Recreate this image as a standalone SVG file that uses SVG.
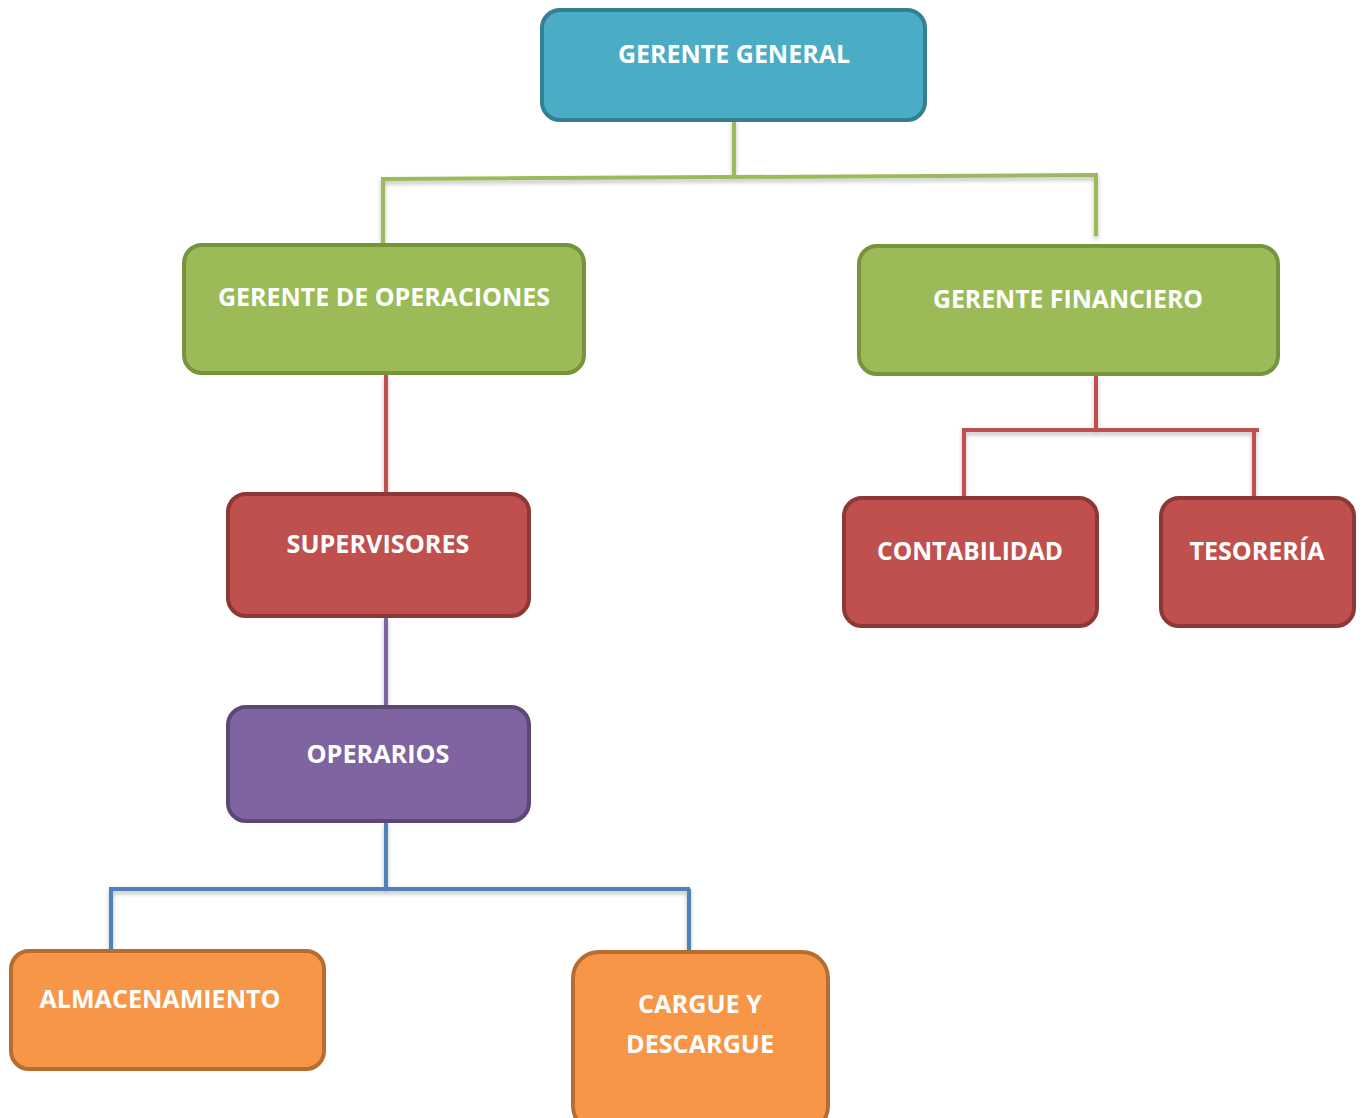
<svg xmlns="http://www.w3.org/2000/svg" width="1364" height="1118" viewBox="0 0 1364 1118">
<style>
.box{stroke-width:4}
.t{font-family:"Open Sans","Liberation Sans",sans-serif;font-weight:bold;font-size:25px;fill:#ffffff;text-anchor:middle}
.ln{fill:none;stroke-width:4;stroke-linecap:butt;stroke-linejoin:miter}
</style>
<defs>
<filter id="sh" x="-5%" y="-50%" width="110%" height="300%">
<feGaussianBlur in="SourceAlpha" stdDeviation="2"/>
<feOffset dx="0" dy="3" result="b"/>
<feComponentTransfer><feFuncA type="linear" slope="0.25"/></feComponentTransfer>
<feMerge><feMergeNode/><feMergeNode in="SourceGraphic"/></feMerge>
</filter>
</defs>
<rect width="1364" height="1118" fill="#ffffff"/>
<g id="connectors" filter="url(#sh)">
<path class="ln" stroke="#9BBB59" d="M734,119 V177 M383,244 V179 L1096,175 V236"/>
<path class="ln" stroke="#C0504D" d="M386,374 V493"/>
<path class="ln" stroke="#C0504D" d="M1096,375 V430 M964,497 V430 H1259 M1254,430 V497"/>
<path class="ln" stroke="#8064A2" d="M386,617 V706"/>
<path class="ln" stroke="#4F81BD" d="M386,822 V889 M111,950 V889 H690 M689,889 V951"/>
</g>
<g id="n-gerente-general">
<rect class="box" x="542" y="10" width="383" height="110" rx="18" fill="#4BACC6" stroke="#357F93"/>
<text class="t" x="734" y="63" textLength="232" lengthAdjust="spacingAndGlyphs">GERENTE GENERAL</text>
</g>
<g id="n-gerente-operaciones">
<rect class="box" x="184" y="245" width="400" height="128" rx="18" fill="#9BBB59" stroke="#77933C"/>
<text class="t" x="384" y="306" textLength="332" lengthAdjust="spacingAndGlyphs">GERENTE DE OPERACIONES</text>
</g>
<g id="n-gerente-financiero">
<rect class="box" x="859" y="246" width="419" height="128" rx="18" fill="#9BBB59" stroke="#77933C"/>
<text class="t" x="1068" y="308" textLength="270" lengthAdjust="spacingAndGlyphs">GERENTE FINANCIERO</text>
</g>
<g id="n-supervisores">
<rect class="box" x="228" y="494" width="301" height="122" rx="18" fill="#C0504D" stroke="#8C3836"/>
<text class="t" x="378" y="553" textLength="183" lengthAdjust="spacingAndGlyphs">SUPERVISORES</text>
</g>
<g id="n-contabilidad">
<rect class="box" x="844" y="498" width="253" height="128" rx="18" fill="#C0504D" stroke="#8C3836"/>
<text class="t" x="970" y="560" textLength="186" lengthAdjust="spacingAndGlyphs">CONTABILIDAD</text>
</g>
<g id="n-tesoreria">
<rect class="box" x="1161" y="498" width="193" height="128" rx="18" fill="#C0504D" stroke="#8C3836"/>
<text class="t" x="1257" y="560" textLength="135" lengthAdjust="spacingAndGlyphs">TESORERÍA</text>
</g>
<g id="n-operarios">
<rect class="box" x="228" y="707" width="301" height="114" rx="18" fill="#8064A2" stroke="#5C4776"/>
<text class="t" x="378" y="763" textLength="143" lengthAdjust="spacingAndGlyphs">OPERARIOS</text>
</g>
<g id="n-almacenamiento">
<rect class="box" x="11" y="951" width="313" height="118" rx="18" fill="#F79646" stroke="#B66D31"/>
<text class="t" x="160" y="1008" textLength="241" lengthAdjust="spacingAndGlyphs">ALMACENAMIENTO</text>
</g>
<g id="n-cargue">
<rect class="box" x="573" y="952" width="255" height="180" rx="26" fill="#F79646" stroke="#B66D31"/>
<text class="t" x="700" y="1013" textLength="124" lengthAdjust="spacingAndGlyphs">CARGUE Y</text>
<text class="t" x="700" y="1053" textLength="148" lengthAdjust="spacingAndGlyphs">DESCARGUE</text>
</g>
</svg>
